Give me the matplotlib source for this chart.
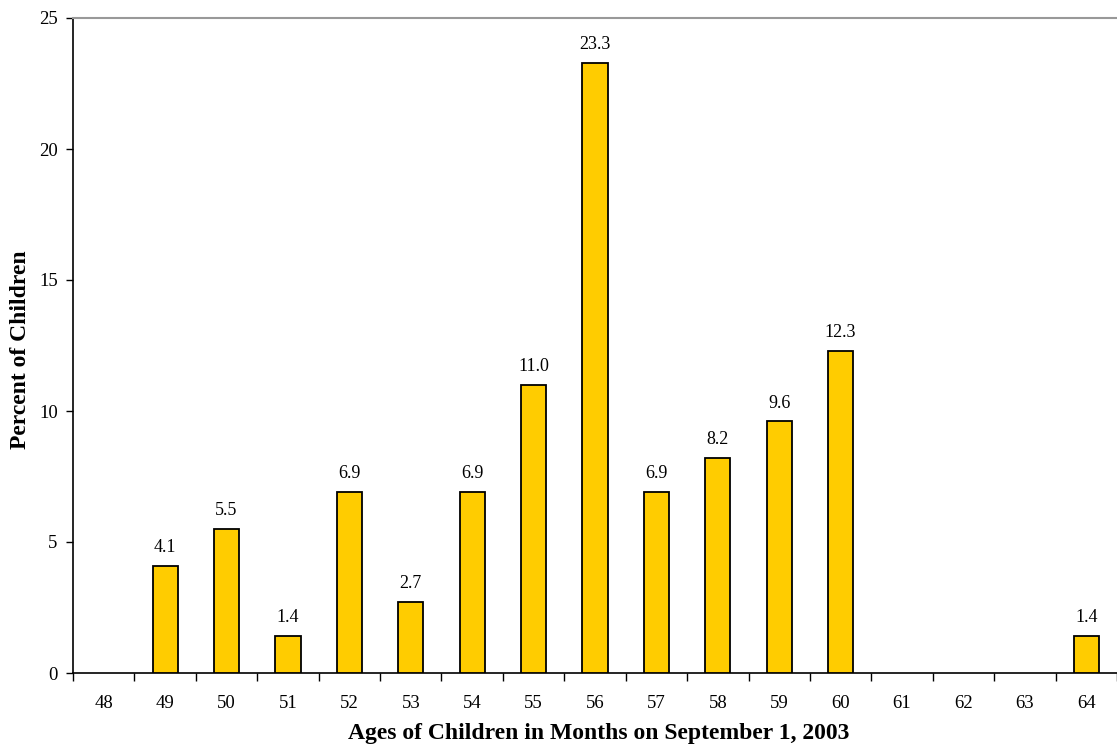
import matplotlib
matplotlib.use("Agg")
import matplotlib.pyplot as plt
import numpy as np

ages = [48, 49, 50, 51, 52, 53, 54, 55, 56, 57, 58, 59, 60, 61, 62, 63, 64]
percent = [0, 4.1, 5.5, 1.4, 6.9, 2.7, 6.9, 11.0, 23.3, 6.9, 8.2, 9.6, 12.3, 0, 0, 0, 1.4]
y_ticks = [0, 5, 10, 15, 20, 25]

plt.rcParams["font.family"] = ["Liberation Serif", "DejaVu Serif"]

W, H = 1117, 749
fig = plt.figure(figsize=(W / 100, H / 100), dpi=100)
left = 73 / W
bottom = (H - 673) / H
top = (H - 18) / H
ax = fig.add_axes([left, bottom, 1 - left, top - bottom])

x = np.arange(len(ages))
edge = ["black" if v > 0 else "none" for v in percent]
ax.bar(x, percent, width=0.41, color="#FFCC00", edgecolor=edge, linewidth=1.3, zorder=3)

for xi, v in zip(x, percent):
    if v > 0:
        ax.text(xi, v + 0.53, f"{v:.1f}", ha="center", va="baseline", fontsize=13)

cat_px = 61.7
ax.set_xlim(-0.5, -0.5 + (W - 73) / cat_px)
ax.set_ylim(0, 25)

ax.set_xticks(x)
ax.set_xticklabels([str(a) for a in ages], fontsize=13.5)
ax.set_xticks(np.arange(len(ages) + 1) - 0.5, minor=True)
ax.tick_params(axis="x", which="major", length=0, pad=16)
ax.tick_params(axis="x", which="minor", length=6, width=1, direction="out")

ax.set_yticks(y_ticks)
ax.set_yticklabels([str(t) for t in y_ticks], fontsize=13.5)
ax.tick_params(axis="y", length=5, width=1, direction="out", pad=6)

ax.spines["right"].set_visible(False)
ax.spines["top"].set_color("#999999")
ax.spines["top"].set_linewidth(1.5)
ax.spines["left"].set_linewidth(1.2)
ax.spines["bottom"].set_linewidth(1.2)

fig.text(599 / W, 1 - 733 / H, "Ages of Children in Months on September 1, 2003",
         fontsize=17, fontweight="bold", ha="center", va="center")
fig.text(21 / W, 1 - 350 / H, "Percent of Children", fontsize=17, fontweight="bold",
         rotation=90, ha="center", va="center")

fig.savefig("out.png", dpi=100)
